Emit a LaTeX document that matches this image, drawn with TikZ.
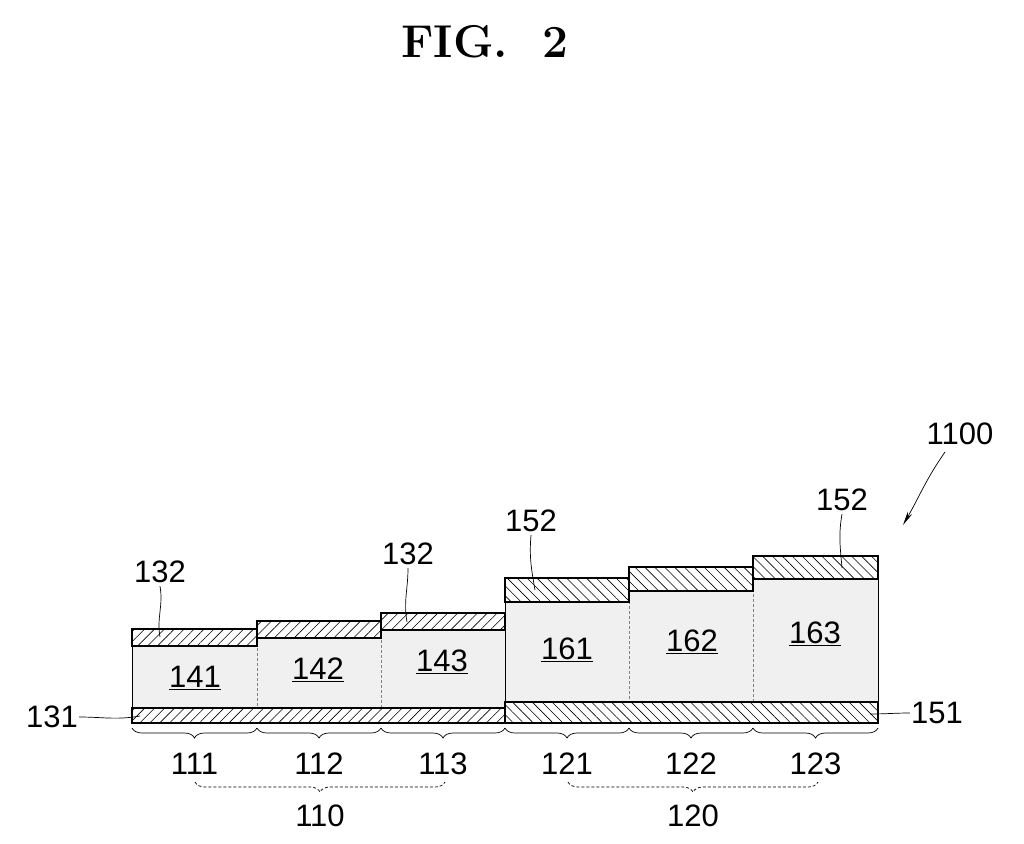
\documentclass[tikz,border=0pt]{standalone}
\usepackage{fontspec}
\setsansfont{Liberation Sans}
\usetikzlibrary{patterns,patterns.meta,decorations.pathreplacing,arrows.meta}
\begin{document}
\begin{tikzpicture}[x=1pt,y=-1pt,
 lab/.style={font=\sffamily\fontsize{31}{31}\selectfont, inner sep=1pt},
 hl/.style={pattern={Lines[angle=45,distance=7pt,line width=0.6pt]}, draw=black, line width=1.2pt},
 hr/.style={pattern={Lines[angle=-45,distance=7pt,line width=0.6pt]}, draw=black, line width=1.2pt},
 sep/.style={densely dashed, gray, line width=0.5pt},
 brc/.style={decorate, decoration={brace, mirror, amplitude=10pt}, line width=0.7pt},
 brd/.style={decorate, decoration={brace, mirror, amplitude=10pt}, densely dashed, line width=0.7pt},
 lead/.style={line width=0.7pt}]
\useasboundingbox (0,0) rectangle (1024,843);
\node[font=\bfseries\fontsize{46}{46}\selectfont] (title) at (485,42) {FIG.\ \ 2};
% cores
\fill[gray!12] (132,646) rectangle (257,708);
\fill[gray!12] (257,638) rectangle (381,708);
\fill[gray!12] (381,630) rectangle (505,708);
\fill[gray!12] (505,602) rectangle (629,702);
\fill[gray!12] (629,591) rectangle (753,702);
\fill[gray!12] (753,579) rectangle (878,702);
\draw[line width=1pt] (132,646)--(132,708) (505,602)--(505,708) (878,579)--(878,702);
\foreach \x/\a/\b in {257/638/708,381/630/708,629/591/702,753/579/702} \draw[sep] (\x,\a)--(\x,\b);
% top layers
\draw[hl] (132,629) rectangle (257,646);
\draw[hl] (257,621) rectangle (381,638);
\draw[hl] (381,613) rectangle (505,630);
\draw[hr] (505,578) rectangle (629,602);
\draw[hr] (629,567) rectangle (753,591);
\draw[hr] (753,556) rectangle (878,579);
% bottom layers
\draw[hl] (132,708) rectangle (505,723);
\draw[hr] (505,702) rectangle (878,723);
% cell labels
\foreach \n/\x/\y in {141/195/678,142/318/670,143/442/662,161/567/650,162/692/642,163/815/634}
  \node[lab] (c\n) at (\x,\y) {\underline{\n}};
% braces
\foreach \a/\b/\n in {132/257/111,257/381/112,381/505/113,505/629/121,629/753/122,753/878/123}{
  \draw[brc] (\a,728) -- (\b,728);
  \node[lab] (b\n) at ({(\a+\b)/2},764) {\n};}
\draw[brd] (195,782) -- (445,782);
\node[lab] (g110) at (320,816) {110};
\draw[brd] (568,782) -- (818,782);
\node[lab] (g120) at (693,816) {120};
% leaders
\node[lab] (l131) at (52,717) {131};
\draw[lead] (l131.east) to[out=0,in=190] (140,716);
\node[lab] (l151) at (937,713) {151};
\draw[lead] (l151.west) to[out=180,in=0] (870,714);
\node[lab] (l132a) at (160,572) {132};
\draw[lead] (l132a.south) ++(0,2) to[out=-80,in=100] (160,637);
\node[lab] (l132b) at (408,554) {132};
\draw[lead] (l132b.south) ++(0,2) to[out=-90,in=100] (407,622);
\node[lab] (l152a) at (531,521) {152};
\draw[lead] (l152a.south) ++(0,2) to[out=-95,in=100] (535,590);
\node[lab] (l152b) at (842,500) {152};
\draw[lead] (l152b.south) ++(0,2) to[out=-100,in=95] (842,568);
\node[lab] (l1100) at (960,434) {1100};
\coordinate (tip) at (903,525);
\draw[lead, -{Stealth[length=14pt,width=5pt]}] (945,452) to[out=235,in=60] (tip);
\end{tikzpicture}
\end{document}
